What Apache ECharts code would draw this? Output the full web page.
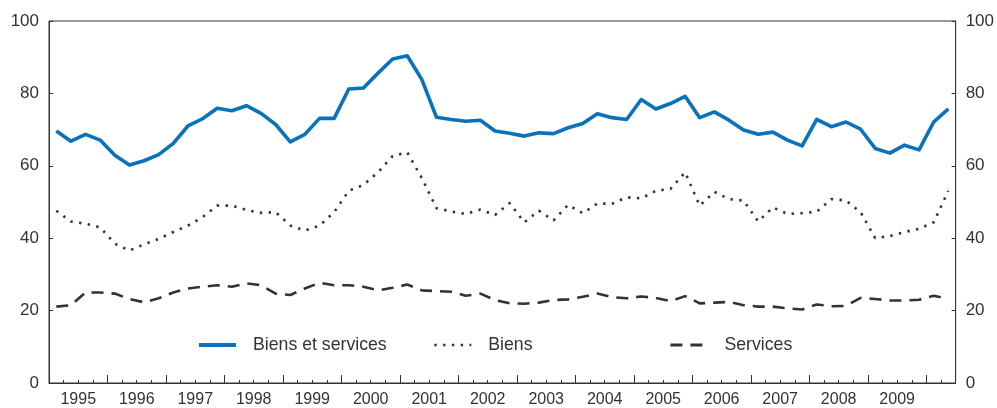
<!DOCTYPE html>
<html>
<head>
<meta charset="utf-8">
<script src="https://cdn.jsdelivr.net/npm/echarts@6/dist/echarts.min.js"></script>
<style>
  html, body { margin: 0; padding: 0; background: #fff; }
  #chart { width: 997px; height: 408px; }
</style>
</head>
<body>
<div id="chart"></div>
<script>
// Quarterly series, 1995 T1 to 2010 T2
const years = [1995, 1996, 1997, 1998, 1999, 2000, 2001, 2002, 2003, 2004, 2005, 2006, 2007, 2008, 2009];
const extraQuarters = ['2010 T1', '2010 T2'];

const biensServices = [
  69.6, 66.8, 68.7, 67.1, 62.9, 60.2, 61.4, 63.1, 66.2, 71.0,
  73.0, 75.9, 75.2, 76.6, 74.5, 71.4, 66.6, 68.7, 73.1, 73.1,
  81.2, 81.5, 85.6, 89.5, 90.4, 83.8, 73.4, 72.8, 72.3, 72.6,
  69.6, 69.0, 68.2, 69.1, 68.9, 70.5, 71.7, 74.4, 73.3, 72.8,
  78.3, 75.7, 77.2, 79.2, 73.3, 74.9, 72.6, 69.9, 68.7, 69.3,
  67.1, 65.5, 72.8, 70.8, 72.1, 70.1, 64.8, 63.5, 65.7, 64.4,
  72.1, 75.7
];
const biens = [
  47.6, 44.6, 44.0, 43.0, 38.5, 36.6, 38.3, 39.8, 41.7, 43.5,
  45.8, 49.0, 49.0, 47.8, 47.0, 47.2, 43.5, 42.1, 43.5, 47.2,
  53.1, 54.7, 58.2, 62.7, 63.7, 56.6, 48.3, 47.4, 46.7, 47.9,
  46.4, 49.7, 44.4, 47.6, 44.9, 49.2, 46.9, 49.6, 49.5, 51.3,
  51.0, 53.1, 53.6, 58.2, 49.0, 52.8, 50.8, 50.4, 44.6, 48.5,
  46.7, 46.9, 47.3, 50.8, 50.4, 47.2, 40.0, 40.6, 41.7, 42.6,
  44.4, 53.1
];
const services = [
  21.1, 21.5, 25.0, 25.0, 24.7, 23.2, 22.3, 23.4, 25.0, 26.1,
  26.6, 27.0, 26.6, 27.5, 27.0, 24.7, 24.3, 26.1, 27.7, 27.0,
  27.0, 26.6, 25.6, 26.3, 27.2, 25.6, 25.4, 25.2, 24.1, 24.7,
  22.9, 22.0, 21.9, 22.2, 22.9, 23.1, 23.8, 24.7, 23.7, 23.4,
  23.9, 23.5, 22.6, 24.0, 22.0, 22.2, 22.4, 21.5, 21.1, 21.1,
  20.6, 20.3, 21.7, 21.2, 21.3, 23.5, 23.2, 22.8, 22.8, 23.0,
  24.1, 23.2
];
const yTicks = [0, 20, 40, 60, 80, 100];

// Quarter categories for the data axis
const quarters = [];
years.forEach(y => { for (let q = 1; q <= 4; q++) quarters.push(y + ' T' + q); });
extraQuarters.forEach(q => quarters.push(q));

// Quarter boundaries (n + 1 points) carrying the year labels and the year ticks
const boundaries = [];
for (let i = 0; i <= quarters.length; i++) {
  const yi = Math.floor(i / 4);
  boundaries.push(i % 4 === 2 && yi < years.length ? String(years[yi]) : '');
}

const FONT = '"Liberation Sans", Arial, Helvetica, sans-serif';
const INK = '#333333';
const BLUE = '#0a72ba';

const chart = echarts.init(document.getElementById('chart'), null, { renderer: 'canvas' });

const legendBase = {
  top: 336,
  padding: 0,
  itemWidth: 37,
  itemHeight: 14,
  itemGap: 0,
  itemStyle: { opacity: 0 },
  textStyle: { fontFamily: FONT, fontSize: 17.7, color: INK, padding: [0, 0, 0, 12] }
};

chart.setOption({
  animation: false,
  grid: {
    left: 49, right: 40, top: 21, bottom: 23,
    show: true, borderColor: INK, borderWidth: 1, backgroundColor: 'transparent'
  },
  legend: [
    Object.assign({}, legendBase, { left: 197, data: ['Biens et services'], lineStyle: { width: 4 } }),
    Object.assign({}, legendBase, { left: 433, data: ['Biens'], lineStyle: { width: 2.6 } }),
    Object.assign({}, legendBase, { left: 669, data: ['Services'], lineStyle: { width: 2.8 } })
  ],
  xAxis: [
    {
      type: 'category',
      data: quarters,
      boundaryGap: true,
      position: 'bottom',
      axisLine: { show: true, lineStyle: { color: INK, width: 1 } },
      axisTick: { show: true, inside: true, interval: 0, length: 3, lineStyle: { color: INK } },
      axisLabel: { show: false },
      splitLine: { show: false }
    },
    {
      type: 'category',
      data: boundaries,
      boundaryGap: false,
      position: 'bottom',
      axisLine: { show: false },
      axisTick: {
        show: true, inside: true, length: 8,
        interval: (idx) => idx % 4 === 0,
        lineStyle: { color: INK }
      },
      axisLabel: {
        show: true,
        interval: (idx) => idx % 4 === 2,
        fontFamily: FONT, fontSize: 16, color: INK, margin: 9
      },
      splitLine: { show: false }
    }
  ],
  yAxis: [
    {
      type: 'value', min: 0, max: 100, interval: 20, position: 'left',
      axisLine: { show: true, lineStyle: { color: INK } },
      axisTick: { show: true, inside: true, length: 4, lineStyle: { color: INK } },
      axisLabel: {
        fontFamily: FONT, fontSize: 17, color: INK, margin: 10,
        formatter: (v) => yTicks.includes(v) ? String(v) : ''
      },
      splitLine: { show: false }
    },
    {
      type: 'value', min: 0, max: 100, interval: 20, position: 'right',
      axisLine: { show: true, lineStyle: { color: INK } },
      axisTick: { show: true, inside: true, length: 4, lineStyle: { color: INK } },
      axisLabel: {
        fontFamily: FONT, fontSize: 17, color: INK, margin: 10,
        formatter: (v) => yTicks.includes(v) ? String(v) : ''
      },
      splitLine: { show: false }
    }
  ],
  series: [
    {
      name: 'Biens et services', type: 'line', xAxisIndex: 0, yAxisIndex: 0,
      data: biensServices, symbol: 'none',
      lineStyle: { color: BLUE, width: 3.6, join: 'round' },
      itemStyle: { color: BLUE }
    },
    {
      name: 'Biens', type: 'line', xAxisIndex: 0, yAxisIndex: 0,
      data: biens, symbol: 'none',
      lineStyle: { color: INK, width: 2.6, type: [2.4, 6.4] },
      itemStyle: { color: INK }
    },
    {
      name: 'Services', type: 'line', xAxisIndex: 0, yAxisIndex: 0,
      data: services, symbol: 'none',
      lineStyle: { color: INK, width: 2.6, type: [12, 8] },
      itemStyle: { color: INK }
    }
  ]
});
</script>
</body>
</html>
